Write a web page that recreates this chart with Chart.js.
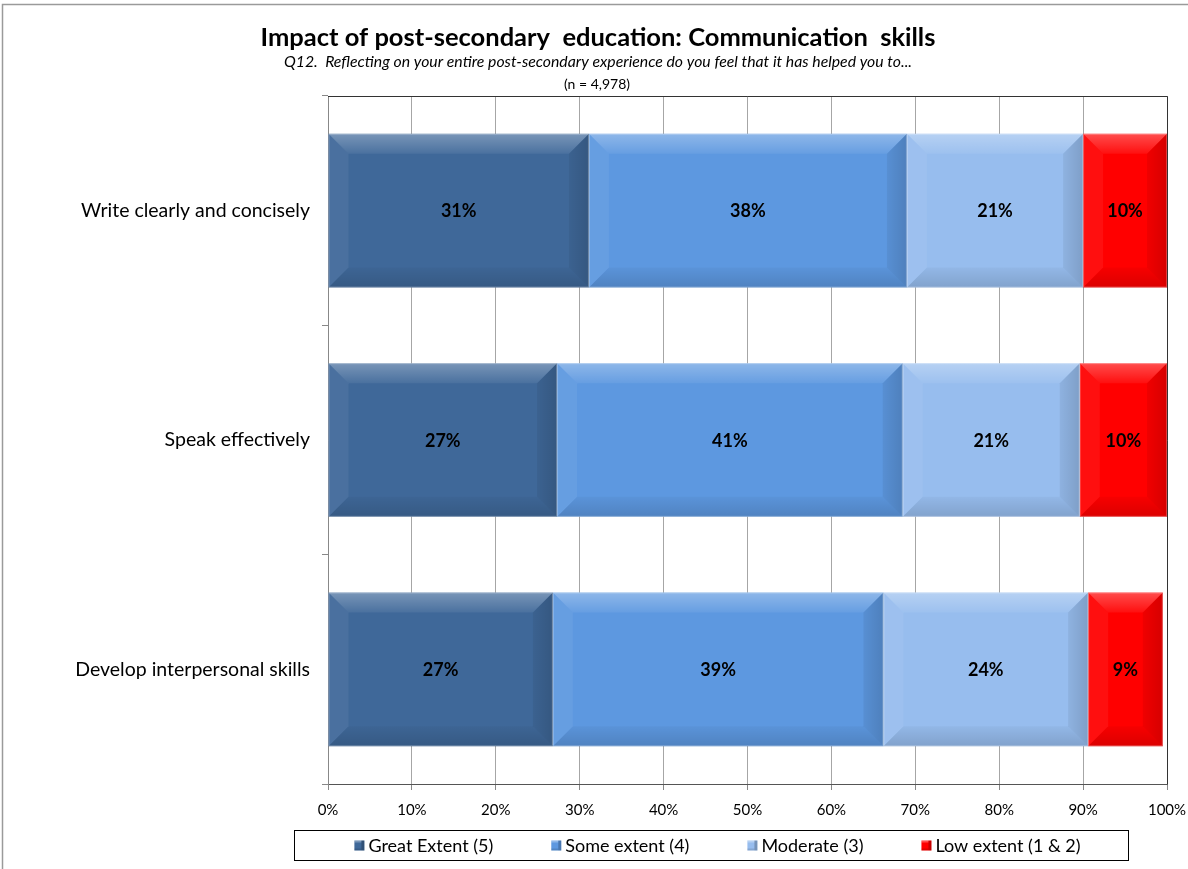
<!DOCTYPE html>
<html><head><meta charset="utf-8">
<script src="https://cdn.jsdelivr.net/npm/chart.js@4"></script>
<style>html,body{margin:0;padding:0;background:#fff;overflow:hidden;}</style>
</head><body>
<canvas id="c" width="1188" height="869"></canvas>
<script>
// ---- data ----
const categories = ["Write clearly and concisely", "Speak effectively", "Develop interpersonal skills"];
const seriesNames = ["Great Extent (5)", "Some extent (4)", "Moderate (3)", "Low extent (1 & 2)"];
const greatExtent = [31.1, 27.3, 26.8];
const someExtent  = [37.9, 41.2, 39.4];
const moderate    = [21.0, 21.1, 24.4];
const lowExtent   = [10.0, 10.4, 8.9];
const xTickValues = [0, 10, 20, 30, 40, 50, 60, 70, 80, 90, 100];
const titleText = "Impact of post-secondary  education: Communication  skills";
const subtitleText = "Q12.  Reflecting on your entire post-secondary experience do you feel that it has helped you to...";
const sampleText = "(n = 4,978)";
const seriesColors = ["#3F6899", "#5D98E0", "#97BDEE", "#FF0000"];

const FONT = "Lato, 'Open Sans', sans-serif";

const seriesValues = [greatExtent, someExtent, moderate, lowExtent];

const decorPlugin = {
  id: 'decor',
  beforeDraw(chart) {
    const ctx = chart.ctx;
    ctx.save();
    ctx.fillStyle = '#fff';
    ctx.fillRect(0, 0, chart.width, chart.height);
    ctx.strokeStyle = '#9a9a9a';
    ctx.lineWidth = 1.5;
    ctx.beginPath();
    ctx.moveTo(2.5, chart.height);
    ctx.lineTo(2.5, 4.5);
    ctx.lineTo(chart.width, 4.5);
    ctx.stroke();
    ctx.restore();
  },
  afterDatasetsDraw(chart) {
    const ctx = chart.ctx;
    ctx.save();
    chart.data.datasets.forEach((ds, di) => {
      const meta = chart.getDatasetMeta(di);
      meta.data.forEach((el, i) => {
        const p = el.getProps(['x', 'y', 'base', 'height'], true);
        const l = Math.min(p.x, p.base), r = Math.max(p.x, p.base);
        const t = p.y - p.height / 2, btm = p.y + p.height / 2;
        const b = Math.min(20, (r - l) / 2, p.height / 2);
        // top bevel
        let g = ctx.createLinearGradient(0, t, 0, t + b);
        g.addColorStop(0, 'rgba(255,255,255,0.30)');
        g.addColorStop(1, 'rgba(255,255,255,0.06)');
        ctx.fillStyle = g;
        ctx.beginPath();
        ctx.moveTo(l, t); ctx.lineTo(r, t); ctx.lineTo(r - b, t + b); ctx.lineTo(l + b, t + b); ctx.closePath();
        ctx.fill();
        // bottom bevel
        g = ctx.createLinearGradient(0, btm - b, 0, btm);
        g.addColorStop(0, 'rgba(0,0,0,0.03)');
        g.addColorStop(1, 'rgba(0,0,0,0.14)');
        ctx.fillStyle = g;
        ctx.beginPath();
        ctx.moveTo(l, btm); ctx.lineTo(r, btm); ctx.lineTo(r - b, btm - b); ctx.lineTo(l + b, btm - b); ctx.closePath();
        ctx.fill();
        // left bevel
        ctx.fillStyle = 'rgba(255,255,255,0.06)';
        ctx.beginPath();
        ctx.moveTo(l, t); ctx.lineTo(l + b, t + b); ctx.lineTo(l + b, btm - b); ctx.lineTo(l, btm); ctx.closePath();
        ctx.fill();
        // right bevel
        g = ctx.createLinearGradient(r - b, 0, r, 0);
        g.addColorStop(0, 'rgba(0,0,0,0.06)');
        g.addColorStop(1, 'rgba(0,0,0,0.16)');
        ctx.fillStyle = g;
        ctx.beginPath();
        ctx.moveTo(r, t); ctx.lineTo(r - b, t + b); ctx.lineTo(r - b, btm - b); ctx.lineTo(r, btm); ctx.closePath();
        ctx.fill();
        // thin outline
        ctx.strokeStyle = 'rgba(255,255,255,0.25)';
        ctx.lineWidth = 1;
        ctx.strokeRect(l + 0.5, t + 0.5, r - l - 1, btm - t - 1);
        // value label
        ctx.fillStyle = '#000';
        ctx.font = "bold 18px " + FONT;
        ctx.textAlign = 'center';
        ctx.textBaseline = 'middle';
        ctx.fillText(Math.round(ds.data[i]) + '%', (l + r) / 2, p.y + 1);
      });
    });
    ctx.restore();
  },
  afterDraw(chart) {
    const ctx = chart.ctx;
    const a = chart.chartArea;
    ctx.save();
    // plot top and right border
    ctx.strokeStyle = '#333';
    ctx.lineWidth = 1;
    ctx.beginPath();
    ctx.moveTo(a.left, Math.round(a.top) + 0.5);
    ctx.lineTo(Math.round(a.right) + 0.5, Math.round(a.top) + 0.5);
    ctx.lineTo(Math.round(a.right) + 0.5, a.bottom);
    ctx.stroke();
    // titles
    ctx.fillStyle = '#000';
    ctx.textAlign = 'center';
    ctx.textBaseline = 'middle';
    ctx.font = "bold 25.5px " + FONT;
    ctx.fillText(titleText, 598, 38);
    ctx.font = "italic 15.8px " + FONT;
    ctx.fillText(subtitleText, 598, 62);
    ctx.font = "14px " + FONT;
    ctx.fillText(sampleText, 597, 84);
    // legend
    const boxL = 294.5, boxR = 1128.5, boxT = 830.5, boxB = 860.5;
    ctx.strokeStyle = '#000';
    ctx.lineWidth = 1;
    ctx.strokeRect(boxL, boxT, boxR - boxL, boxB - boxT);
    ctx.font = "18px " + FONT;
    const gap = 58, mk = 10, mg = 4;
    const widths = seriesNames.map(s => ctx.measureText(s).width);
    let total = widths.reduce((s, w) => s + mk + mg + w, 0) + gap * (seriesNames.length - 1);
    let x = (boxL + boxR) / 2 - total / 2 + 6;
    const cy = (boxT + boxB) / 2;
    ctx.textAlign = 'left';
    chart.data.datasets.forEach((ds, i) => {
      const top = cy - mk / 2;
      ctx.fillStyle = ds.backgroundColor;
      ctx.fillRect(x, top, mk, mk);
      ctx.fillStyle = 'rgba(0,0,0,0.22)';
      ctx.fillRect(x + mk - 3, top, 3, mk);
      ctx.fillStyle = 'rgba(0,0,0,0.12)';
      ctx.fillRect(x, top + mk - 2, mk - 3, 2);
      ctx.fillStyle = 'rgba(255,255,255,0.3)';
      ctx.fillRect(x, top, mk - 3, 2);
      ctx.fillStyle = '#000';
      ctx.fillText(ds.label, x + mk + mg, cy + 1);
      x += mk + mg + widths[i] + gap;
    });
    ctx.restore();
  }
};

new Chart(document.getElementById('c'), {
  type: 'bar',
  data: {
    labels: categories,
    datasets: seriesNames.map((name, i) => ({
      label: name,
      data: seriesValues[i],
      backgroundColor: seriesColors[i],
      borderWidth: 0,
      categoryPercentage: 0.67,
      barPercentage: 1
    }))
  },
  options: {
    indexAxis: 'y',
    responsive: false,
    animation: false,
    devicePixelRatio: 1,
    layout: { padding: { top: 96, right: 21, left: 0, bottom: 0 } },
    plugins: {
      legend: { display: false },
      title: { display: false },
      tooltip: { enabled: false }
    },
    scales: {
      x: {
        stacked: true,
        min: 0, max: 100,
        afterBuildTicks(scale) { scale.ticks = xTickValues.map(v => ({ value: v })); },
        afterFit(scale) { scale.height = 85; scale.paddingLeft = 0; scale.paddingRight = 0; },
        ticks: {
          callback: v => v + '%',
          color: '#000',
          font: { family: FONT, size: 15 },
          padding: 11,
          maxRotation: 0
        },
        grid: { color: '#a6a6a6', lineWidth: 1, tickLength: 6, tickColor: '#888' },
        border: { color: '#555', width: 1 }
      },
      y: {
        stacked: true,
        afterFit(scale) { scale.width = 328; },
        ticks: {
          color: '#000',
          font: { family: FONT, size: 19.5 },
          padding: 12
        },
        grid: { offset: true, drawOnChartArea: false, tickLength: 6, color: '#888' },
        border: { color: '#888', width: 1 }
      }
    }
  },
  plugins: [decorPlugin]
});
</script>
</body></html>
